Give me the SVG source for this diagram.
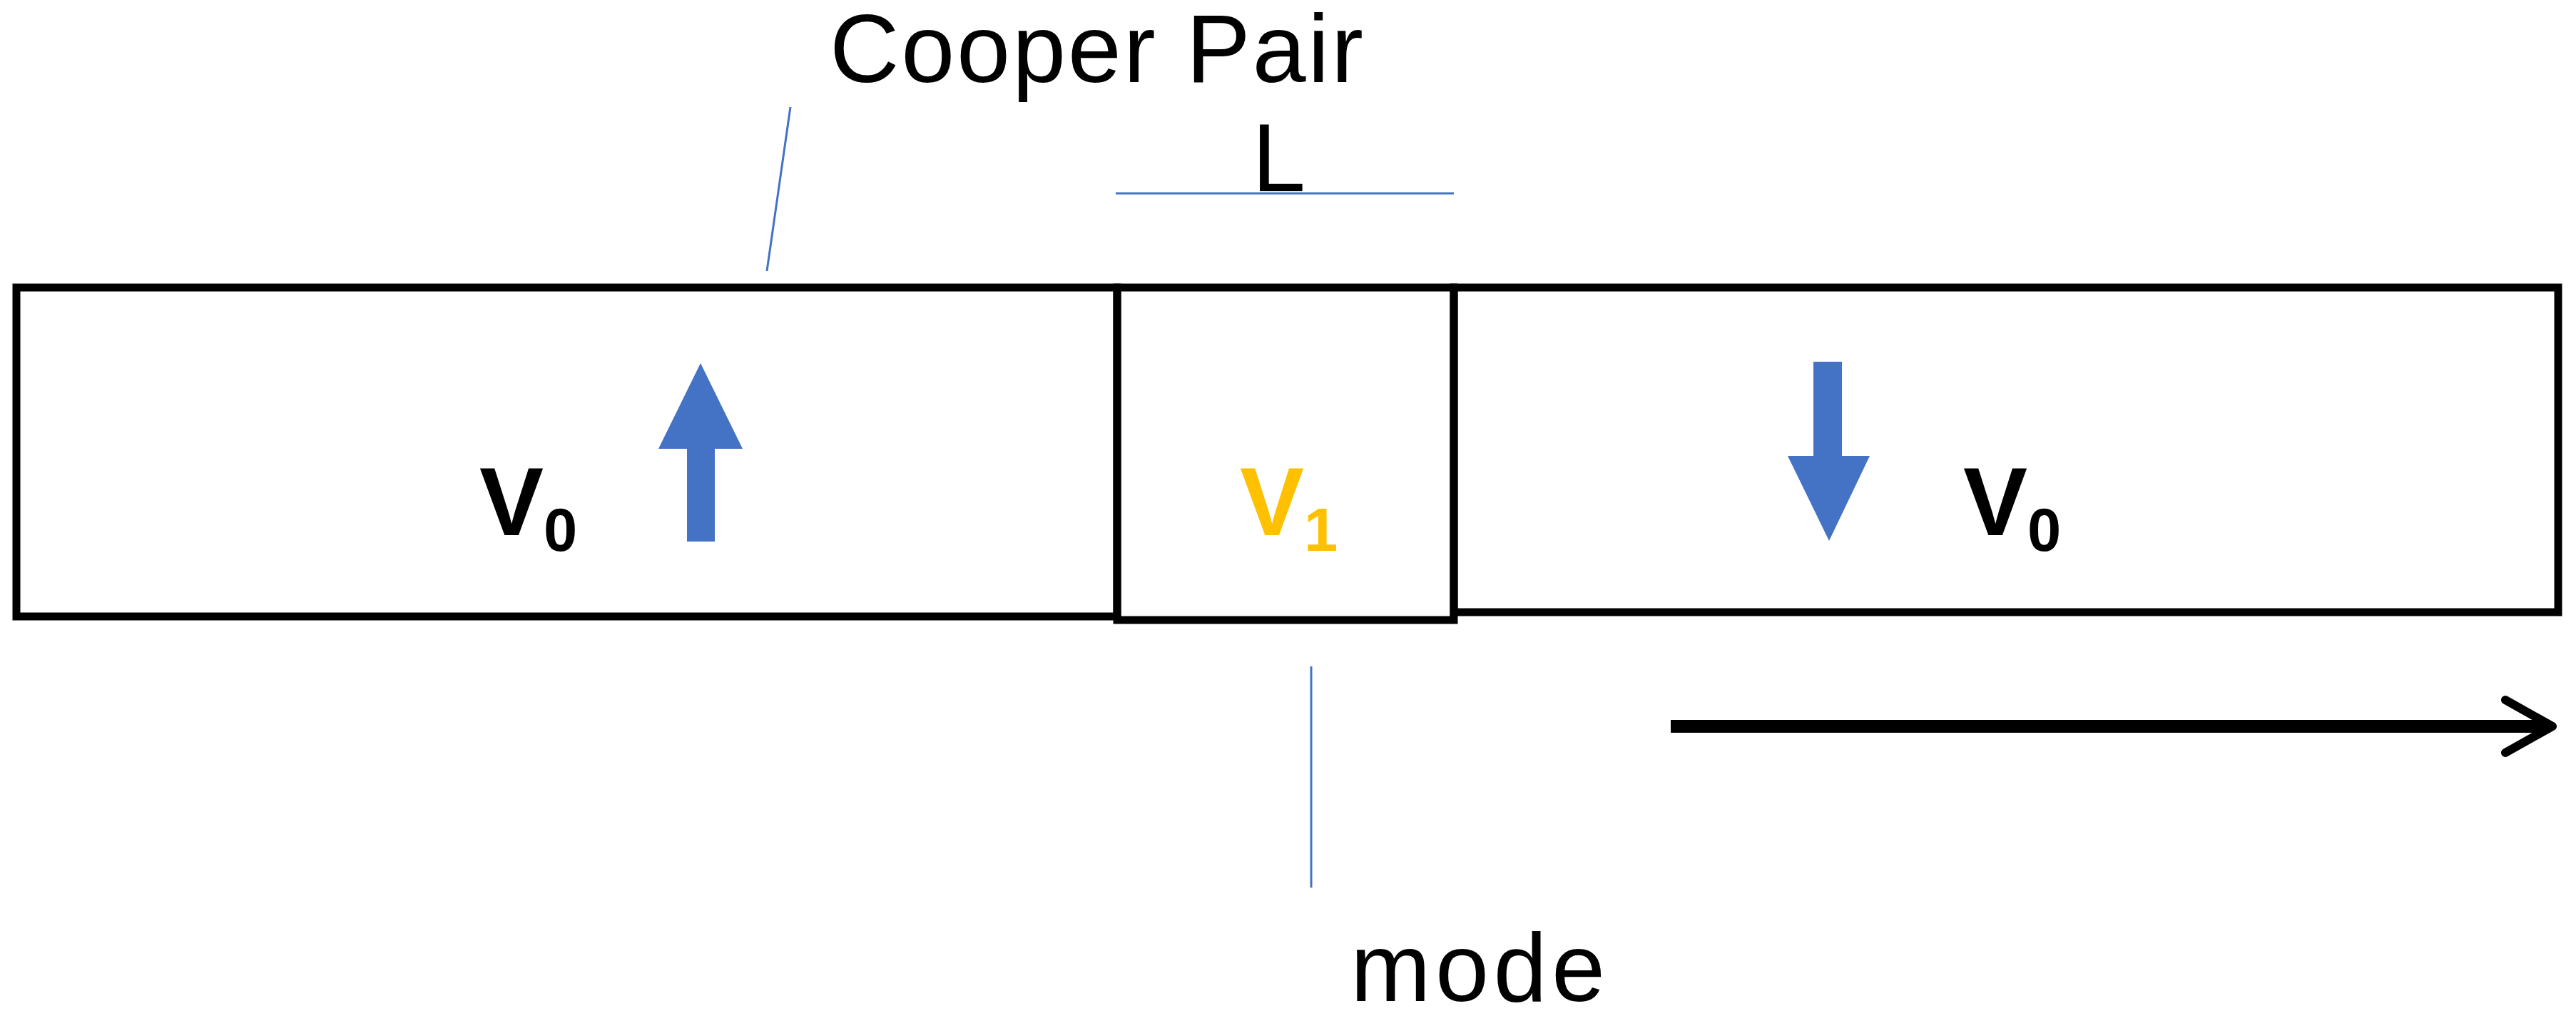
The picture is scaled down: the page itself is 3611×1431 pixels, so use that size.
<svg xmlns="http://www.w3.org/2000/svg" width="3611" height="1431" viewBox="0 0 3611 1431">
<style>
.box{fill:none;stroke:#000;stroke-width:11}
.thin{stroke:#4472C4;stroke-width:3;fill:none}
.lbl{font-family:"Liberation Sans",Arial,sans-serif;font-size:135px;fill:#000}
.v{font-family:"Liberation Sans",Arial,sans-serif;font-weight:bold;font-size:135px}
.sub{font-size:85px}
</style>
<rect width="3611" height="1431" fill="#fff"/>
<g id="left"><rect class="box" x="23" y="403" width="1543" height="461"/>
<text class="v" x="672" y="750" fill="#000">V<tspan class="sub" dy="22">0</tspan></text></g>
<g id="middle"><rect class="box" x="1566" y="403" width="472" height="466"/>
<text class="v" x="1738" y="750" fill="#FFC000">V<tspan class="sub" dy="22">1</tspan></text></g>
<g id="right"><rect class="box" x="2038" y="403" width="1548" height="455"/>
<text class="v" x="2752" y="750" fill="#000">V<tspan class="sub" dy="22">0</tspan></text></g>
<g id="labels">
<text class="lbl" x="1163" y="115" textLength="748">Cooper Pair</text>
<text class="lbl" x="1755" y="268">L</text>
<text class="lbl" x="1893" y="1403" textLength="357">mode</text>
</g>
<g id="connectors">
<line class="thin" x1="1108" y1="150" x2="1075" y2="380"/>
<line class="thin" x1="1564" y1="271" x2="2038" y2="271"/>
<line class="thin" x1="1838" y1="934" x2="1838" y2="1244"/>
<polygon fill="#4472C4" points="982,509 1041,629 1002,629 1002,759 963,759 963,629 923,629"/>
<polygon fill="#4472C4" points="2542,507 2582,507 2582,639 2621,639 2564,758 2506,639 2542,639"/>
<line x1="2342" y1="1018" x2="3575" y2="1018" stroke="#000" stroke-width="18"/>
<polyline points="3512,981 3578,1018 3512,1055" fill="none" stroke="#000" stroke-width="12" stroke-linecap="round" stroke-linejoin="round"/>
</g>
</svg>
